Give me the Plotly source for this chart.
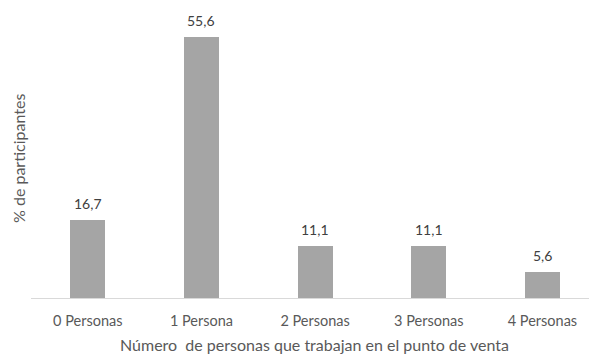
import plotly.graph_objects as go

categorias = ["0 Personas", "1 Persona", "2 Personas", "3 Personas", "4 Personas"]
porcentajes = [16.7, 55.6, 11.1, 11.1, 5.6]
etiquetas = ["16,7", "55,6", "11,1", "11,1", "5,6"]

W, H = 589, 354
m_l, m_r, m_t, m_b = 31, 0, 16, 56
FUENTE = "Lato, Open Sans, sans-serif"
posiciones = list(range(len(categorias)))

fig = go.Figure(go.Bar(
    x=posiciones,
    y=porcentajes,
    width=0.31,
    marker=dict(color="#a5a5a5", line=dict(width=0)),
    hoverinfo="skip",
))

# value labels above each bar
etiquetas_barras = [
    dict(text=t, x=xp, y=v, xref="x", yref="y",
         xanchor="center", yanchor="bottom", yshift=6, showarrow=False,
         font=dict(family=FUENTE, size=14, color="#404040"))
    for xp, v, t in zip(posiciones, porcentajes, etiquetas)
]

fig.update_layout(
    width=W, height=H,
    margin=dict(l=m_l, r=m_r, t=m_t, b=m_b),
    paper_bgcolor="white", plot_bgcolor="white",
    showlegend=False,
    bargap=0,
    xaxis=dict(
        tickmode="array", tickvals=posiciones, ticktext=categorias,
        range=[-0.5, 4.41],
        showgrid=False, zeroline=False,
        showline=True, linecolor="#d9d9d9", linewidth=1,
        ticks="", ticklabelstandoff=10,
        tickfont=dict(family=FUENTE, size=14.5, color="#595959"),
    ),
    yaxis=dict(
        range=[0, 60], visible=False,
    ),
    annotations=etiquetas_barras + [
        dict(text="Número  de personas que trabajan en el punto de venta",
             xref="paper", yref="paper", x=(314 - m_l) / (W - m_l - m_r), y=-(344 - (H - m_b)) / (H - m_t - m_b),
             xanchor="center", yanchor="middle", showarrow=False,
             font=dict(family=FUENTE, size=16, color="#595959")),
        dict(text="% de participantes", textangle=-90,
             xref="paper", yref="paper", x=-(m_l - 18) / (W - m_l - m_r), y=(H - m_b - 159) / (H - m_t - m_b),
             xanchor="center", yanchor="middle", showarrow=False,
             font=dict(family=FUENTE, size=16, color="#595959")),
    ],
)

fig.write_html("out.html")
